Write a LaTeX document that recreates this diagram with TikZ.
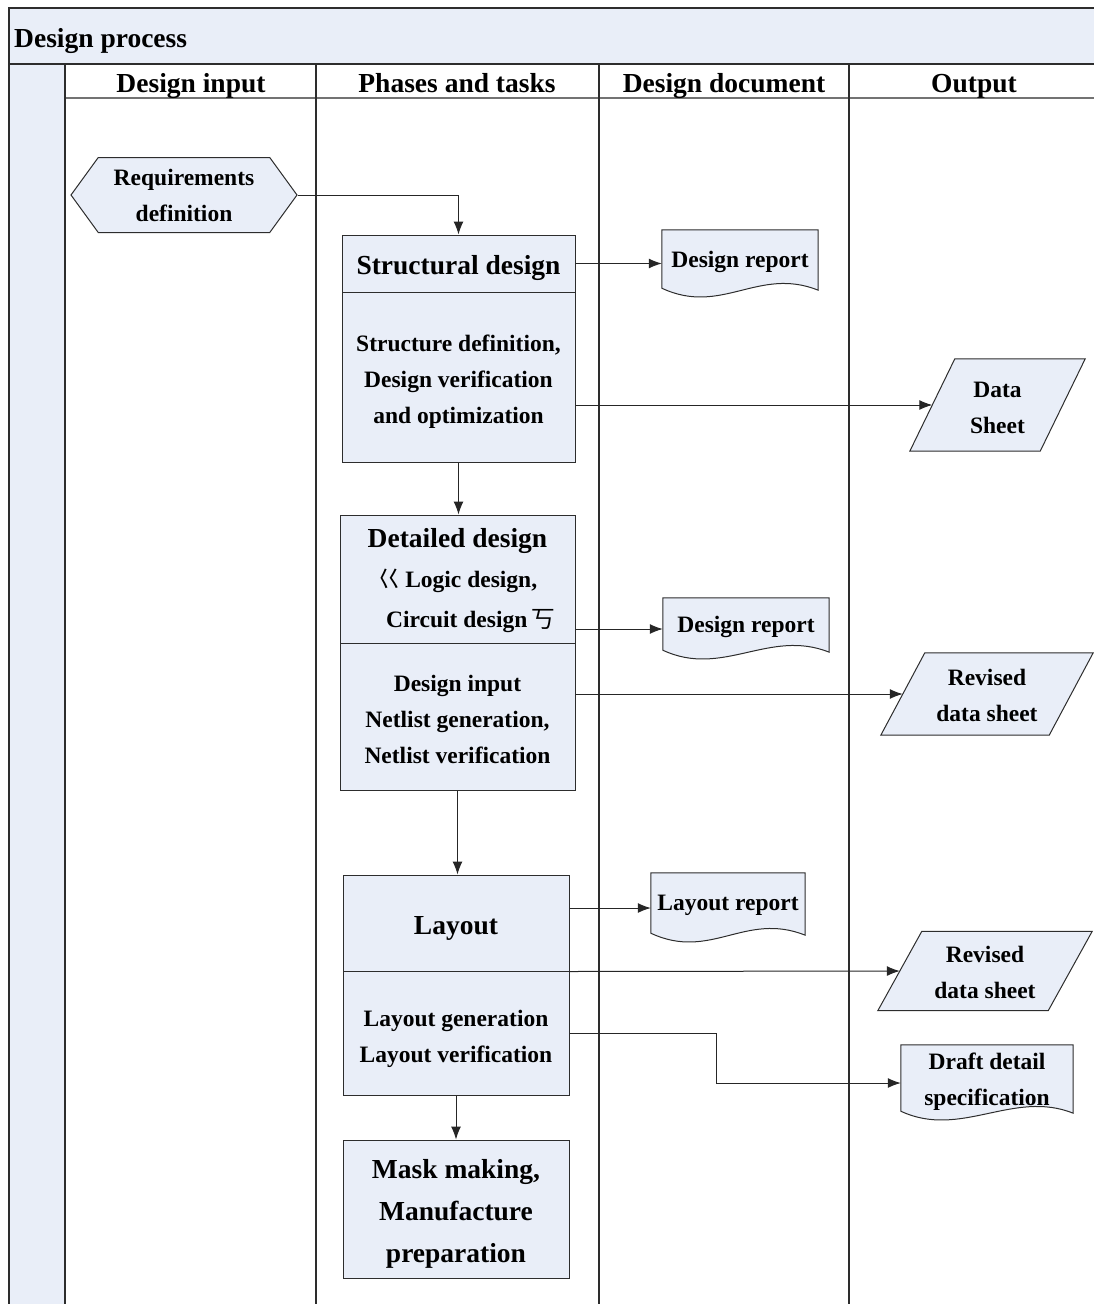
\documentclass[tikz,border=0pt]{standalone}
\usepackage{fontspec}
\setmainfont{Liberation Serif}
\newfontfamily\cjkfont{Noto Sans CJK SC}
\usetikzlibrary{arrows.meta,shapes.symbols,backgrounds}
\definecolor{boxfill}{RGB}{233,238,248}
\definecolor{inkline}{RGB}{45,45,45}
% invisible strut that lowers the text block of a box
\newcommand{\liftline}[1]{\rule{0pt}{#1pt}}
% document symbol with wavy bottom, drawn behind the named node
\newcommand{\docshape}[1]{%
  \begin{pgfonlayer}{background}
    \draw[shapeline] (#1.north west) -- (#1.north east) -- ([yshift=8pt]#1.south east)
      .. controls +(-60,-24) and +(60,28) .. ([yshift=10pt]#1.south west) -- cycle;
  \end{pgfonlayer}}
% data sheet symbol (parallelogram) round the named node, #2 = half slant
\newcommand{\sheetshape}[2]{%
  \begin{pgfonlayer}{background}
    \draw[shapeline] ([xshift=-#2pt]#1.south west) -- ([xshift=-#2pt]#1.south east)
      -- ([xshift=#2pt]#1.north east) -- ([xshift=#2pt]#1.north west) -- cycle;
  \end{pgfonlayer}}

\begin{document}
\begin{tikzpicture}[x=1pt,y=-1pt,
    shapeline/.style={draw=inkline,fill=boxfill,line width=1pt},
    lane/.style={draw=inkline,line width=1.1pt},
    flow/.style={draw=black!85,line width=1pt,-{Latex[length=13pt,width=10pt]}},
    head/.style={font=\fontsize{27.5}{36}\selectfont\bfseries,inner sep=0pt,text depth=0pt},
    txt/.style={font=\fontsize{23.5}{36}\selectfont\bfseries,align=center,inner sep=0pt},
    phase/.style={txt,shapeline,rectangle},
    doc/.style={txt,rectangle,text depth=10pt},
    sheet/.style={txt,rectangle}]
\useasboundingbox (0,0) rectangle (1093,1304);

% swimlanes
\fill[boxfill] (9,8) rectangle (1100,64);
\fill[boxfill] (9,64) rectangle (65,1310);
\draw[lane] (1100,8) -- (9,8) -- (9,1310);
\draw[lane] (9,64) -- (1100,64);
\draw[lane,draw=black!55] (65,98) -- (1100,98);
\foreach \x in {65,316,599,849}
  \draw[lane] (\x,64) -- (\x,1310);
\node[head,anchor=west] (title) at (14,38) {Design process};
\node[head] (colA) at (191,83) {Design input};
\node[head] (colB) at (457,83) {Phases and tasks};
\node[head] (colC) at (724,83) {Design document};
\node[head] (colD) at (974,83) {Output};

% input
\node[txt,shapeline,signal,signal to=west and east,signal pointer angle=108,
  minimum width=226,minimum height=75] (req) at (184,195) {Requirements\\definition};

% phases
\node[phase,minimum width=233,minimum height=57] (sdh) at (458.5,263.5)
  {\fontsize{27.5}{36}\selectfont\liftline{29}Structural design};
\node[phase,minimum width=233,minimum height=170] (sdb) at (458.5,377)
  {\liftline{26}Structure definition,\\Design verification\\and optimization};
\node[phase,minimum width=235,minimum height=128,
  font=\fontsize{23.5}{40}\selectfont\bfseries] (ddh) at (457.5,579)
  {{\fontsize{27.5}{40}\selectfont\liftline{23}Detailed design}\\{\cjkfont\mdseries 巜}\,Logic design,\\
   \hspace*{26pt}Circuit design\,{\cjkfont\mdseries 丂}};
\node[phase,minimum width=235,minimum height=147] (ddb) at (457.5,716.5)
  {\liftline{22}Design input\\Netlist generation,\\Netlist verification};
\node[phase,minimum width=226,minimum height=96] (lh) at (456,923)
  {\fontsize{27.5}{36}\selectfont\liftline{29}Layout};
\node[phase,minimum width=226,minimum height=124] (lb) at (456,1033)
  {\liftline{28}Layout generation\\Layout verification};
\node[phase,minimum width=226,minimum height=138,font=\fontsize{27.5}{42}\selectfont\bfseries]
  (mm) at (456,1209) {\liftline{29}Mask making,\\Manufacture\\preparation};

% documents
\node[doc,minimum width=156,minimum height=68] (dr1) at (740,264) {Design report};
\node[doc,minimum width=166,minimum height=62] (dr2) at (746,629) {Design report};
\node[doc,minimum width=154,minimum height=70] (lr) at (728,908) {Layout report};
\node[doc,minimum width=172,minimum height=76,text depth=8pt] (dd) at (987,1083)
  {Draft detail\\specification};
\docshape{dr1}
\docshape{dr2}
\docshape{lr}
\docshape{dd}

% outputs
\node[sheet,minimum width=130,minimum height=92] (ds) at (997.5,405) {\liftline{22}Data\\Sheet};
\node[sheet,minimum width=168,minimum height=82] (rds1) at (987,694) {\liftline{20}Revised\\data sheet};
\node[sheet,minimum width=170,minimum height=79] (rds2) at (985,971) {\liftline{20}Revised\\data sheet};
\sheetshape{ds}{22.5}
\sheetshape{rds1}{22}
\sheetshape{rds2}{22}

% connectors
\draw[flow] (req.east) -| (sdh.north);
\draw[flow] (sdh.east) -- (sdh.east -| dr1.west);
\draw[flow] (sdb.east |- ds.west) -- (ds.west);
\draw[flow] (sdb.south) -- (sdb.south |- ddh.north);
\draw[flow] (ddh.east |- dr2.west) -- (dr2.west);
\draw[flow] (ddb.east |- rds1.west) -- (rds1.west);
\draw[flow] (ddb.south) -- (ddb.south |- lh.north);
\draw[flow] (lh.east |- lr.west) -- (lr.west);
\draw[flow] (lh.south east) -- (rds2.west);
\draw[flow] (lb.east) -- ++(147,0) |- (dd.west);
\draw[flow] (lb.south) -- (mm.north);
\end{tikzpicture}
\end{document}
